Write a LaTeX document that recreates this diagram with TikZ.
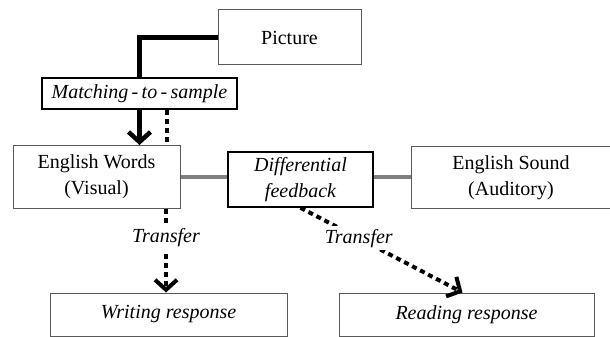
\documentclass[tikz,border=0pt]{standalone}
\usepackage{fontspec}
\setmainfont{Liberation Serif}
\usetikzlibrary{arrows.meta, positioning}
\newcommand{\diagfont}{\fontsize{20}{26}\selectfont}
\tikzset{
>={Straight Barb[length=10pt,width=22pt]}, % open V-shaped arrow heads
box/.style={draw=black!65, line width=1pt, fill=white, align=center, inner sep=2pt, font=\diagfont}, % plain boxes
procedure/.style={box, draw=black, line width=1.6pt, font=\diagfont\itshape}, % boxes naming a procedure
response/.style={box, font=\diagfont\itshape}, % boxes of the responses
link/.style={line width=4.5pt}, % thick black connector
relation/.style={line width=4pt, draw=black!50}, % grey relation between stimuli
dotline/.style={line width=4pt, dash pattern=on 5pt off 4pt}, % square dotted line
transfer/.style={dotline, ->}, % dotted arrow for transfer
tag/.style={fill=white, inner sep=3pt, font=\diagfont\itshape}, % label on a line
}
\begin{document}
\begin{tikzpicture}[x=1pt, y=-1pt]
    \useasboundingbox (0,0) rectangle (610,337);

    \node[box, minimum width=143pt, minimum height=55pt] (picture) at (289.5,37.5) {Picture};
    \node[procedure, minimum width=195pt, minimum height=31pt] (mts) at (139.5,93.5) {Matching\,-\,to\,-\,sample};
    \node[box, minimum width=167pt, minimum height=63pt] (words) at (96.5,177) {English Words\\(Visual)};
    \node[procedure, minimum width=145pt, minimum height=55pt] (feedback) at (300.5,179.5) {Differential\\feedback};
    \node[box, minimum width=200pt, minimum height=62pt] (sound) at (511,177.5) {English Sound\\(Auditory)};
    \node[response, minimum width=237pt, minimum height=43pt] (writing) at (168.5,314.5) {Writing response};
    \node[response, minimum width=255pt, minimum height=43pt] (reading) at (466.5,314.5) {Reading response};

    % matching-to-sample
    \draw[link] (picture.west) -| (mts.north);
    \draw[link, ->] (mts.south) -- (mts.south |- words.north);
    \draw[dotline] ([xshift=27pt]mts.south) -- ([xshift=27pt]mts.south |- words.north);

    % relations between words and sound
    \draw[relation] (words.east) -- (words.east -| feedback.west);
    \draw[relation] (feedback.east |- words.east) -- (sound.west |- words.east);

    % transfer
    \draw[transfer] ([xshift=69.5pt]words.south) -- node[tag, pos=0.34] {Transfer} ([xshift=69.5pt]words.south |- writing.north);
    \draw[transfer] (feedback.south) -- node[tag, pos=0.36] {Transfer} ([xshift=-4pt]reading.north);
\end{tikzpicture}
\end{document}
